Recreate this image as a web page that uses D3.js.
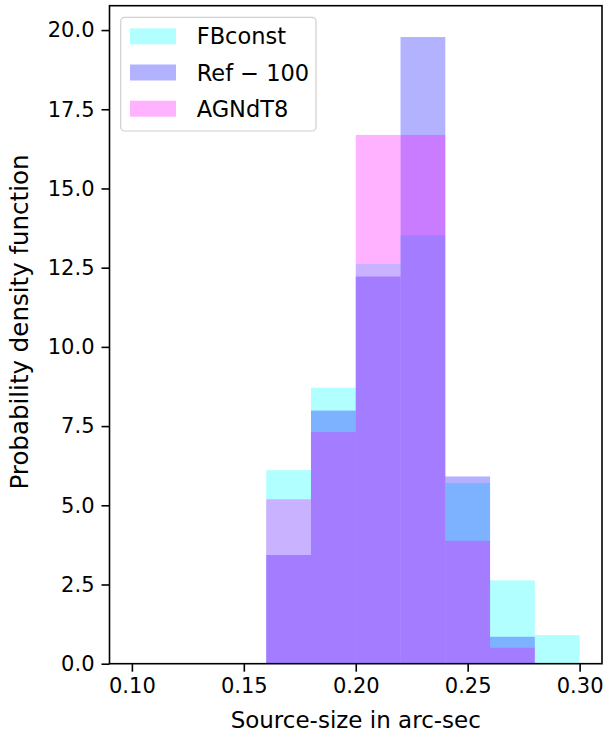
<!DOCTYPE html>
<html>
<head>
<meta charset="utf-8">
<script src="https://cdn.jsdelivr.net/npm/d3@7"></script>
<style>
  html, body { margin: 0; padding: 0; background: #fff; }
  svg { display: block; }
  text { font-family: "DejaVu Sans", sans-serif; fill: #000; }
</style>
</head>
<body>
<div id="chart"></div>
<script>
// ---- data ----
const binStarts = [0.10, 0.12, 0.14, 0.16, 0.18, 0.20, 0.22, 0.24, 0.26, 0.28];
const binWidth = 0.02;
const fbconst = [0, 0, 0, 6.11, 8.71, 12.62, 13.52, 5.70, 2.63, 0.905];
const ref100  = [0, 0, 0, 3.43, 7.99, 12.22, 19.78, 5.91, 0.85, 0];
const agndt8  = [0, 0, 0, 5.19, 7.31, 16.69, 16.69, 3.88, 0.50, 0];
const seriesNames = ["FBconst", "Ref \u2212 100", "AGNdT8"];
const seriesColors = ["#00ffff", "#0000ff", "#ff00ff"];
const xTicks = [0.10, 0.15, 0.20, 0.25, 0.30];
const yTicks = [0, 2.5, 5, 7.5, 10, 12.5, 15, 17.5, 20];
const xLabel = "Source-size in arc-sec";
const yLabel = "Probability density function";

const seriesValues = [fbconst, ref100, agndt8];

const W = 608, H = 735;
const m = { left: 109.5, right: 602, top: 5.7, bottom: 663.7 };

const svg = d3.select("#chart").append("svg").attr("width", W).attr("height", H);

const allMax = d3.max(seriesValues.flat());
const x = d3.scaleLinear().domain([0.09, 0.31]).range([m.left, m.right]);
const y = d3.scaleLinear().domain([0, allMax * 1.05]).range([m.bottom, m.top]);

// bars
seriesValues.forEach((vals, si) => {
  svg.append("g").selectAll("rect")
    .data(binStarts.map((b, i) => ({ x0: b, x1: b + binWidth, v: vals[i] })).filter(d => d.v > 0))
    .join("rect")
    .attr("x", d => x(d.x0))
    .attr("width", d => x(d.x1) - x(d.x0))
    .attr("y", d => y(d.v))
    .attr("height", d => y(0) - y(d.v))
    .attr("fill", seriesColors[si])
    .attr("fill-opacity", 0.3);
});

// axes
const xAxis = d3.axisBottom(x).tickValues(xTicks).tickFormat(d3.format(".2f")).tickSizeInner(8).tickSizeOuter(0).tickPadding(6);
const yAxis = d3.axisLeft(y).tickValues(yTicks).tickFormat(d3.format(".1f")).tickSizeInner(8).tickSizeOuter(0).tickPadding(7);

const gx = svg.append("g").attr("transform", `translate(0,${m.bottom})`).call(xAxis);
const gy = svg.append("g").attr("transform", `translate(${m.left},0)`).call(yAxis);
[gx, gy].forEach(g => {
  g.select(".domain").remove();
  g.selectAll(".tick line").attr("stroke", "#000").attr("stroke-width", 1.6);
  g.selectAll(".tick text").attr("font-size", 21).attr("fill", "#000");
});

// spines
svg.append("rect")
  .attr("x", m.left).attr("y", m.top)
  .attr("width", m.right - m.left).attr("height", m.bottom - m.top)
  .attr("fill", "none").attr("stroke", "#000").attr("stroke-width", 1.6);

// labels
svg.append("text")
  .attr("x", (m.left + m.right) / 2).attr("y", 728)
  .attr("text-anchor", "middle").attr("font-size", 23)
  .text(xLabel);
svg.append("text")
  .attr("transform", `translate(28,322) rotate(-90)`)
  .attr("text-anchor", "middle").attr("font-size", 24.5)
  .text(yLabel);

// legend
const lg = svg.append("g");
lg.append("rect")
  .attr("x", 120.7).attr("y", 17.3).attr("width", 195.3).attr("height", 113.7)
  .attr("rx", 4).attr("fill", "#fff").attr("fill-opacity", 0.8)
  .attr("stroke", "#d0d0d0").attr("stroke-width", 1.2);
seriesNames.forEach((name, i) => {
  const cy = 36.3 + i * 36.2;
  lg.append("rect")
    .attr("x", 130).attr("y", cy - 8).attr("width", 46).attr("height", 16)
    .attr("fill", seriesColors[i]).attr("fill-opacity", 0.3);
  lg.append("text")
    .attr("x", 196.7).attr("y", cy + 8)
    .attr("font-size", 22.5)
    .text(name);
});
</script>
</body>
</html>
